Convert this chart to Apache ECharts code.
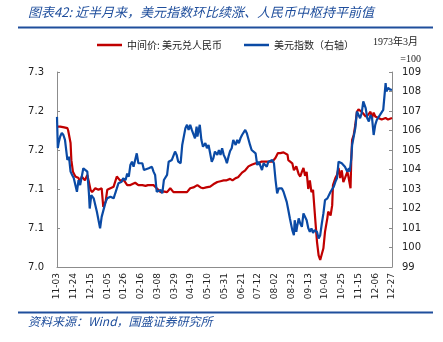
<!DOCTYPE html>
<html><head><meta charset="utf-8">
<script src="https://cdn.jsdelivr.net/npm/echarts@6/dist/echarts.min.js"></script>
<style>html,body{margin:0;padding:0;background:#fff}#c{width:443px;height:342px}</style>
</head><body><div id="c"></div>
<script>
// x tick labels every 21 calendar days from 2023-11-03 (day 0) to 2024-12-27 (day 420)
const xTickLabels = ['11-03','11-24','12-15','01-05','01-26','02-16','03-08','03-29','04-19','05-10','05-31','06-21','07-12','08-02','08-23','09-13','10-04','10-25','11-15','12-06','12-27'];
const leftTickLabels = ['7.0','7.1','7.1','7.2','7.2','7.3'];

// 中间价: 美元兑人民币 (day offset, value)
const cnyDays = [0,4,9,13,14,17,18,20,23,27,29,31,35,38,40,42,44,48,52,56,58,61,63,67,71,75,77,79,84,88,92,98,102,107,111,114,121,125,130,133,138,142,146,155,163,167,171,176,180,183,187,192,196,201,205,209,212,217,220,224,227,232,236,240,244,249,252,256,261,265,270,274,277,280,284,286,289,290,292,295,297,299,300,303,305,307,309,311,313,315,317,319,321,324,326,328,330,332,334,336,339,340,343,345,346,349,351,353,355,357,359,361,364,365,368,369,370,372,374,376,378,382,387,390,393,395,397,399,403,407,412,415,420];
const cnyValues = [7.180,7.180,7.179,7.178,7.175,7.159,7.137,7.122,7.116,7.114,7.109,7.116,7.111,7.118,7.109,7.099,7.096,7.101,7.099,7.101,7.077,7.084,7.099,7.101,7.103,7.116,7.118,7.111,7.111,7.105,7.105,7.108,7.105,7.105,7.104,7.105,7.105,7.101,7.096,7.097,7.096,7.101,7.096,7.096,7.096,7.101,7.102,7.105,7.102,7.101,7.102,7.103,7.106,7.109,7.110,7.111,7.111,7.113,7.111,7.114,7.115,7.121,7.124,7.129,7.131,7.133,7.132,7.135,7.135,7.135,7.135,7.140,7.146,7.146,7.147,7.145,7.144,7.137,7.135,7.133,7.124,7.122,7.129,7.119,7.116,7.122,7.127,7.117,7.122,7.100,7.111,7.096,7.099,7.058,7.032,7.015,7.009,7.011,7.024,7.045,7.063,7.071,7.066,7.079,7.105,7.114,7.118,7.127,7.114,7.124,7.109,7.114,7.122,7.118,7.101,7.140,7.163,7.169,7.182,7.199,7.202,7.199,7.193,7.195,7.199,7.191,7.198,7.193,7.191,7.189,7.191,7.189,7.191];

// 美元指数 (day offset, value)
const dxyDays = [0,1,2,4,6,8,10,13,15,17,19,21,23,25,27,29,31,33,35,38,40,41,43,46,48,50,52,54,56,58,61,63,67,71,73,75,77,79,81,83,86,88,90,92,94,96,98,100,102,104,107,109,111,115,117,119,121,123,125,127,130,132,134,136,138,140,142,144,146,148,150,152,155,157,159,161,163,165,167,169,171,173,175,176,179,181,183,186,188,190,192,194,196,198,201,203,205,207,209,211,213,215,217,219,221,224,226,228,230,232,234,236,238,240,242,244,246,249,251,253,255,257,259,261,263,265,267,270,272,274,276,278,280,282,284,286,288,290,292,295,297,298,300,301,303,305,307,309,311,313,315,317,319,321,323,326,328,330,332,334,336,339,341,343,345,347,349,351,353,355,357,359,361,364,366,367,369,370,372,374,376,378,380,382,384,387,389,391,393,395,397,399,401,403,405,407,409,412,413,415,418,420];
const dxyValues = [106.7,105.1,105.36,105.69,105.88,105.77,105.52,104.49,104.66,103.89,103.72,103.56,103.63,102.86,103.46,103.2,103.63,104.06,104.01,103.89,102.78,102.0,102.69,102.52,102.43,101.83,101.75,100.98,101.57,101.49,102.34,102.52,102.6,102.52,102.78,103.03,103.29,103.37,103.37,103.55,103.46,103.8,103.63,104.23,104.4,104.14,104.23,104.83,104.32,104.23,104.32,103.97,103.97,104.06,103.97,104.14,103.89,103.72,102.86,102.78,102.95,102.78,103.46,103.55,103.72,104.4,104.32,104.49,104.4,104.92,104.75,104.4,104.32,105.26,105.35,106.12,106.29,106.03,106.29,106.03,106.12,105.6,106.2,105.69,106.29,105.52,105.17,105.35,105.09,105.26,104.83,104.4,104.58,104.92,104.75,105.0,104.75,105.09,104.75,104.58,104.32,104.66,104.95,105.09,105.52,105.26,105.52,105.35,105.6,105.77,105.86,106.03,105.86,105.77,105.26,105.0,105.09,104.83,104.23,104.4,104.32,103.97,104.32,104.4,104.14,104.4,104.32,104.49,104.32,103.46,102.78,103.03,102.95,103.03,102.86,102.6,102.34,101.92,101.49,100.89,100.63,101.4,100.8,101.06,101.49,101.23,101.06,101.75,101.7,101.4,101.0,100.8,100.98,100.75,100.89,100.8,100.46,100.63,101.23,101.75,102.43,102.52,102.43,102.86,102.95,103.12,103.37,103.55,104.4,104.32,104.32,104.32,104.14,103.89,104.06,103.89,104.58,105.26,105.69,106.12,106.97,107.06,106.63,106.89,107.49,107.15,106.63,106.46,106.8,106.63,105.77,106.29,106.55,106.55,106.8,106.89,107.06,108.43,108.0,108.18,108.09,108.09];

const RED = '#c00000', BLUE = '#0a4aa5', NAVY = '#1f4e9c';
const pair = (ds, vs) => ds.map((d, i) => [d, vs[i]]);

const chart = echarts.init(document.getElementById('c'), null, {renderer: 'canvas'});
chart.setOption({
  animation: false,
  backgroundColor: '#fff',
  grid: {left: 57, right: 51, top: 72, height: 195},
  legend: {
    left: 97, top: 40, padding: 0, itemWidth: 25, itemHeight: 2.5, itemGap: 22, icon: 'rect',
    textStyle: {fontSize: 10, color: '#222', fontFamily: 'Noto Sans CJK SC'},
    data: ['中间价: 美元兑人民币', '美元指数（右轴）']
  },
  xAxis: {
    type: 'value', min: 0, max: 420, interval: 21,
    axisLine: {show: true, lineStyle: {color: '#8c8c8c', width: 1}},
    axisTick: {show: false}, splitLine: {show: false},
    axisLabel: {rotate: 90, fontSize: 9, color: '#222', fontFamily: 'DejaVu Sans', margin: 6,
      formatter: v => xTickLabels[Math.round(v / 21)]}
  },
  yAxis: [{
    type: 'value', min: 7.0, max: 7.25, interval: 0.05,
    axisLine: {show: true, lineStyle: {color: '#8c8c8c'}},
    axisTick: {show: true, inside: true, length: 3, lineStyle: {color: '#8c8c8c'}},
    splitLine: {show: false},
    axisLabel: {fontSize: 10, color: '#222', fontFamily: 'DejaVu Sans', margin: 13,
      formatter: v => leftTickLabels[Math.round((v - 7.0) / 0.05)]}
  }, {
    type: 'value', min: 99, max: 109, interval: 1, position: 'right',
    axisLine: {show: true, lineStyle: {color: '#8c8c8c'}},
    axisTick: {show: true, inside: true, length: 3, lineStyle: {color: '#8c8c8c'}},
    splitLine: {show: false},
    axisLabel: {fontSize: 10, color: '#222', fontFamily: 'DejaVu Sans', margin: 10}
  }],
  series: [{
    name: '中间价: 美元兑人民币', type: 'line', yAxisIndex: 0, showSymbol: false, symbol: 'none',
    lineStyle: {color: RED, width: 2.2}, itemStyle: {color: RED},
    data: pair(cnyDays, cnyValues)
  }, {
    name: '美元指数（右轴）', type: 'line', yAxisIndex: 1, showSymbol: false, symbol: 'none',
    lineStyle: {color: BLUE, width: 2.2}, itemStyle: {color: BLUE},
    data: pair(dxyDays, dxyValues)
  }],
  graphic: [
    {type: 'text', left: 28, top: 6, style: {text: '图表42: 近半月来，美元指数环比续涨、人民币中枢持平前值', fill: NAVY, font: 'italic 13px "Noto Sans CJK SC"'}},
    {type: 'rect', shape: {x: 18, y: 26.5, width: 415, height: 2}, style: {fill: NAVY}},
    {type: 'text', right: 25, top: 37, style: {text: '1973年3月', fill: '#222', font: '10px "Liberation Serif", "Noto Sans CJK SC"'}},
    {type: 'text', right: 22, top: 54, style: {text: '=100', fill: '#222', font: '10px "Liberation Serif"'}},
    {type: 'rect', shape: {x: 18, y: 311.5, width: 415, height: 2}, style: {fill: NAVY}},
    {type: 'text', left: 28, top: 315, style: {text: '资料来源：Wind，国盛证券研究所', fill: NAVY, font: 'italic 12px "Noto Sans CJK SC"'}}
  ]
});
</script></body></html>
